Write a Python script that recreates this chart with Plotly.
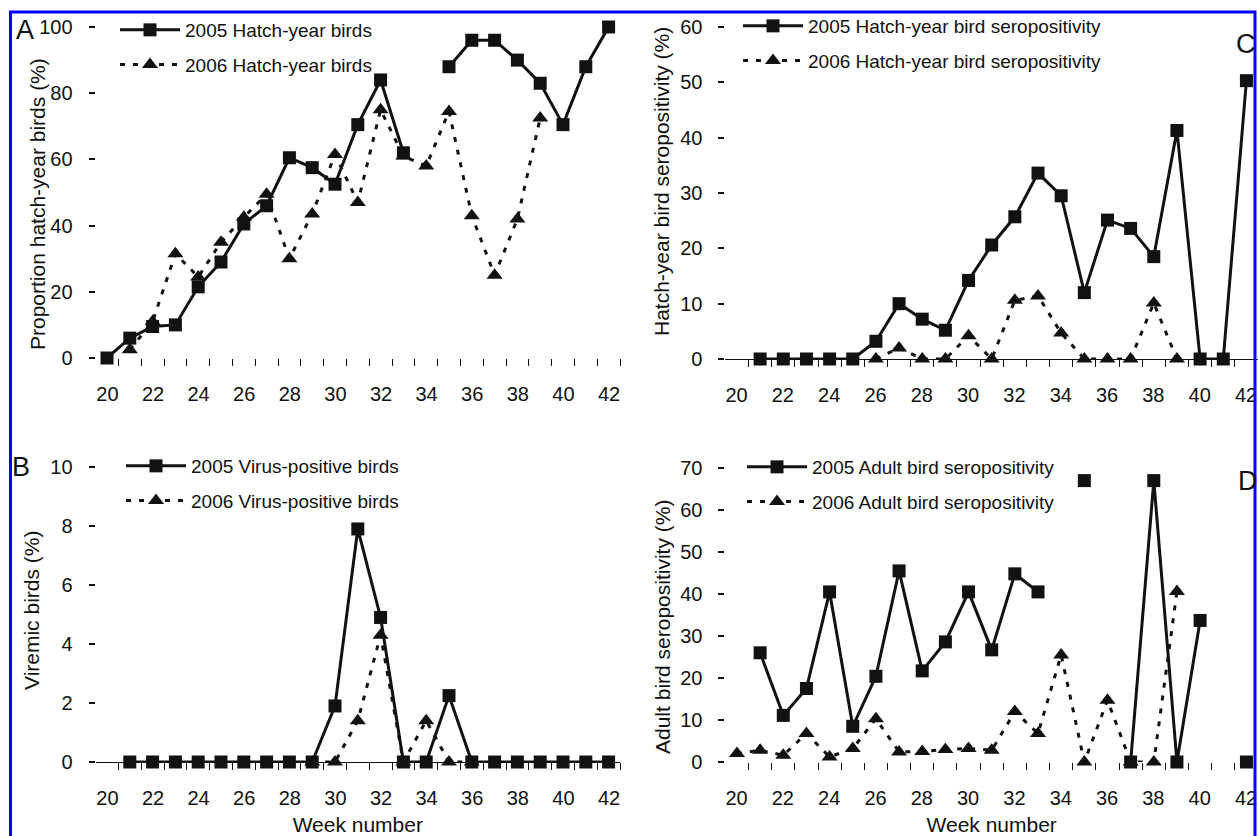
import plotly.graph_objects as go

# ---------------- data ----------------
# Panel A: proportion hatch-year birds (%)
weeks_a_2005 = [20, 21, 22, 23, 24, 25, 26, 27, 28, 29, 30, 31, 32, 33, 34, 35, 36, 37, 38, 39, 40, 41, 42]
hatch_2005 = [0, 6, 9.5, 10, 21.5, 29, 40.5, 46, 60.5, 57.5, 52.5, 70.5, 84, 62, None, 88, 96, 96, 90, 83, 70.5, 88, 100]
weeks_a_2006 = [21, 22, 23, 24, 25, 26, 27, 28, 29, 30, 31, 32, 33, 34, 35, 36, 37, 38, 39]
hatch_2006 = [2.5, 11, 31.5, 24.5, 35, 42.5, 49.5, 30, 43.5, 61.5, 47, 75, 61, 58, 74.5, 43, 25, 42, 72.5]

# Panel B: viremic birds (%)
weeks_b_2005 = [21, 22, 23, 24, 25, 26, 27, 28, 29, 30, 31, 32, 33, 34, 35, 36, 37, 38, 39, 40, 41, 42]
virus_2005 = [0, 0, 0, 0, 0, 0, 0, 0, 0, 1.9, 7.9, 4.9, 0, 0, 2.25, 0, 0, 0, 0, 0, 0, 0]
weeks_b_2006 = [29, 30, 31, 32, 33, 34, 35, 36]
virus_2006 = [0, 0, 1.4, 4.3, 0, 1.4, 0, 0]

# Panel C: hatch-year bird seropositivity (%)
weeks_c_2005 = [21, 22, 23, 24, 25, 26, 27, 28, 29, 30, 31, 32, 33, 34, 35, 36, 37, 38, 39, 40, 41, 42]
hy_sero_2005 = [0, 0, 0, 0, 0, 3.2, 10, 7.2, 5.2, 14.2, 20.6, 25.7, 33.6, 29.5, 12, 25.1, 23.6, 18.5, 41.3, 0, 0, 50.3]
weeks_c_2006 = [26, 27, 28, 29, 30, 31, 32, 33, 34, 35, 36, 37, 38, 39]
hy_sero_2006 = [0, 2, 0, 0, 4.2, 0, 10.6, 11.4, 4.7, 0, 0, 0, 10.1, 0]

# Panel D: adult bird seropositivity (%)
weeks_d_2005 = [21, 22, 23, 24, 25, 26, 27, 28, 29, 30, 31, 32, 33, 34, 35, 36, 37, 38, 39, 40, 41, 42]
ad_sero_2005 = [26, 11.1, 17.5, 40.5, 8.5, 20.4, 45.5, 21.7, 28.6, 40.5, 26.7, 44.8, 40.5, None, 67, None, 0, 67, 0, 33.7, None, 0]
weeks_d_2006 = [20, 21, 22, 23, 24, 25, 26, 27, 28, 29, 30, 31, 32, 33, 34, 35, 36, 37, 38, 39]
ad_sero_2006 = [2, 2.8, 1.6, 6.8, 1.2, 3.2, 10.3, 2.4, 2.5, 3, 3.2, 2.8, 12, 6.8, 25.5, 0, 14.7, 0, 0, 40.6]

# x axis: small tick marks at half weeks; labels for the even weeks
# (each label sits on the tick half a week to its right and is shifted back onto its week)
half_week_ticks = [20.5, 21.5, 22.5, 23.5, 24.5, 25.5, 26.5, 27.5, 28.5, 29.5, 30.5,
                   31.5, 32.5, 33.5, 34.5, 35.5, 36.5, 37.5, 38.5, 39.5, 40.5, 41.5, 42.5]
week_tick_text = ["20", "", "22", "", "24", "", "26", "", "28", "", "30", "",
                  "32", "", "34", "", "36", "", "38", "", "40", "", "42"]

# ---------------- styling ----------------
W, H = 1258, 836
FONT = "Liberation Sans, Arial, Helvetica, sans-serif"
BLACK = "#111111"


def px(p):
    return p / W


def py(p):
    return 1 - p / H


solid = dict(color=BLACK, width=3)
dashed = dict(color=BLACK, width=3, dash="5px,8px")
sq = dict(symbol="square", size=13, color=BLACK)
tri = dict(symbol="triangle-up", size=14, color=BLACK)

fig = go.Figure()


def add(x, y, name, style, xa, ya, lg, grp):
    is_solid = style == "solid"
    fig.add_trace(go.Scatter(
        x=x, y=y, name=name, mode="lines+markers",
        line=solid if is_solid else dashed,
        marker=sq if is_solid else tri,
        xaxis=xa, yaxis=ya, legend=lg, legendgroup=grp,
        legendrank=1 if is_solid else 2,
        cliponaxis=False, connectgaps=False, showlegend=True,
    ))


# Panel A (2006 drawn on top)
add(weeks_a_2005, hatch_2005, "2005 Hatch-year birds", "solid", "x", "y", "legend", "a1")
add(weeks_a_2006, hatch_2006, "2006 Hatch-year birds", "dash", "x", "y", "legend", "a2")
# Panel B (2005 on top)
add(weeks_b_2006, virus_2006, "2006 Virus-positive birds", "dash", "x2", "y2", "legend2", "b2")
add(weeks_b_2005, virus_2005, "2005 Virus-positive birds", "solid", "x2", "y2", "legend2", "b1")
# Panel C
add(weeks_c_2006, hy_sero_2006, "2006 Hatch-year bird seropositivity", "dash", "x3", "y3", "legend3", "c2")
add(weeks_c_2005, hy_sero_2005, "2005 Hatch-year bird seropositivity", "solid", "x3", "y3", "legend3", "c1")
# Panel D
add(weeks_d_2006, ad_sero_2006, "2006 Adult bird seropositivity", "dash", "x4", "y4", "legend4", "d2")
add(weeks_d_2005, ad_sero_2005, "2005 Adult bird seropositivity", "solid", "x4", "y4", "legend4", "d1")

LEFT_PX = (95.6, 620.0)
RIGHT_PX = (725.4, 1258.0)
X_RANGE = [19.5, 42.5]


def xaxis(dom_px, anchor, showline, title=None):
    half_week_px = (dom_px[1] - dom_px[0]) / (X_RANGE[1] - X_RANGE[0]) / 2
    d = dict(
        domain=[px(dom_px[0]), min(1.0, px(dom_px[1]))], anchor=anchor, range=X_RANGE,
        tickmode="array", tickvals=half_week_ticks, ticktext=week_tick_text,
        ticks="outside", ticklen=7, tickwidth=1.2, tickcolor=BLACK,
        ticklabelshift=-int(round(half_week_px)),
        showgrid=False, zeroline=False,
        showline=showline, linecolor=BLACK, linewidth=1.2,
        tickfont=dict(size=20, family=FONT, color=BLACK),
        ticklabelstandoff=11, automargin=False,
    )
    if title:
        d["title"] = dict(text=title, font=dict(size=21, family=FONT, color=BLACK), standoff=16)
    return d


def yaxis(domain, anchor, rng, dtick):
    return dict(
        domain=domain, anchor=anchor, range=rng, dtick=dtick,
        ticks="outside", ticklen=6, tickwidth=1.5, tickcolor=BLACK,
        showgrid=False, zeroline=False, showline=False,
        tickfont=dict(size=20, family=FONT, color=BLACK),
        ticklabelstandoff=12, automargin=False,
    )


def legend(xpix, ypix):
    return dict(
        x=px(xpix), y=py(ypix), xanchor="left", yanchor="top",
        bgcolor="rgba(0,0,0,0)", borderwidth=0,
        font=dict(size=19, family=FONT, color=BLACK),
        itemwidth=60, tracegroupgap=7, traceorder="grouped",
    )


def ytitle(text, xpix, ypix):
    return dict(text=text, x=px(xpix), y=py(ypix), xref="paper", yref="paper",
                showarrow=False, textangle=-90, xanchor="center", yanchor="middle",
                font=dict(size=21, family=FONT, color=BLACK))


def letter(text, xpix, ypix):
    return dict(text=text, x=px(xpix), y=py(ypix), xref="paper", yref="paper",
                showarrow=False, xanchor="center", yanchor="middle",
                font=dict(size=27, family=FONT, color=BLACK))


fig.update_layout(
    width=W, height=H,
    margin=dict(l=0, r=0, t=0, b=0, pad=0, autoexpand=False),
    paper_bgcolor="white", plot_bgcolor="white",
    font=dict(family=FONT, color=BLACK),
    xaxis=xaxis(LEFT_PX, "y", False),
    yaxis=yaxis([py(358), py(27)], "x", [0, 100], 20),
    xaxis2=xaxis(LEFT_PX, "y2", True, "Week number"),
    yaxis2=yaxis([py(762), py(467)], "x2", [0, 10], 2),
    xaxis3=xaxis(RIGHT_PX, "y3", True),
    yaxis3=yaxis([py(359), py(27)], "x3", [0, 60], 10),
    xaxis4=xaxis(RIGHT_PX, "y4", False, "Week number"),
    yaxis4=yaxis([py(762), py(468)], "x4", [0, 70], 10),
    legend=legend(115, 11),
    legend2=legend(121, 447),
    legend3=legend(738, 7),
    legend4=legend(742, 448),
    annotations=[
        ytitle("Proportion hatch-year birds (%)", 37, 204),
        ytitle("Viremic birds (%)", 31, 611),
        ytitle("Hatch-year bird seropositivity (%)", 662, 182),
        ytitle("Adult bird seropositivity (%)", 662, 627),
        letter("A", 25, 30),
        letter("B", 21, 467),
        letter("C", 1246, 44),
        letter("D", 1248, 481),
    ],
    shapes=[
        dict(type="rect", xref="paper", yref="paper", x0=px(10.5), x1=px(1255), y0=-0.05, y1=py(12),
             line=dict(color="#0000ff", width=3), layer="above"),
    ],
)

fig.write_html(
    "out.html",
    config={"displayModeBar": False},
    post_script="document.body.style.margin='0';document.documentElement.style.overflow='hidden';",
)
